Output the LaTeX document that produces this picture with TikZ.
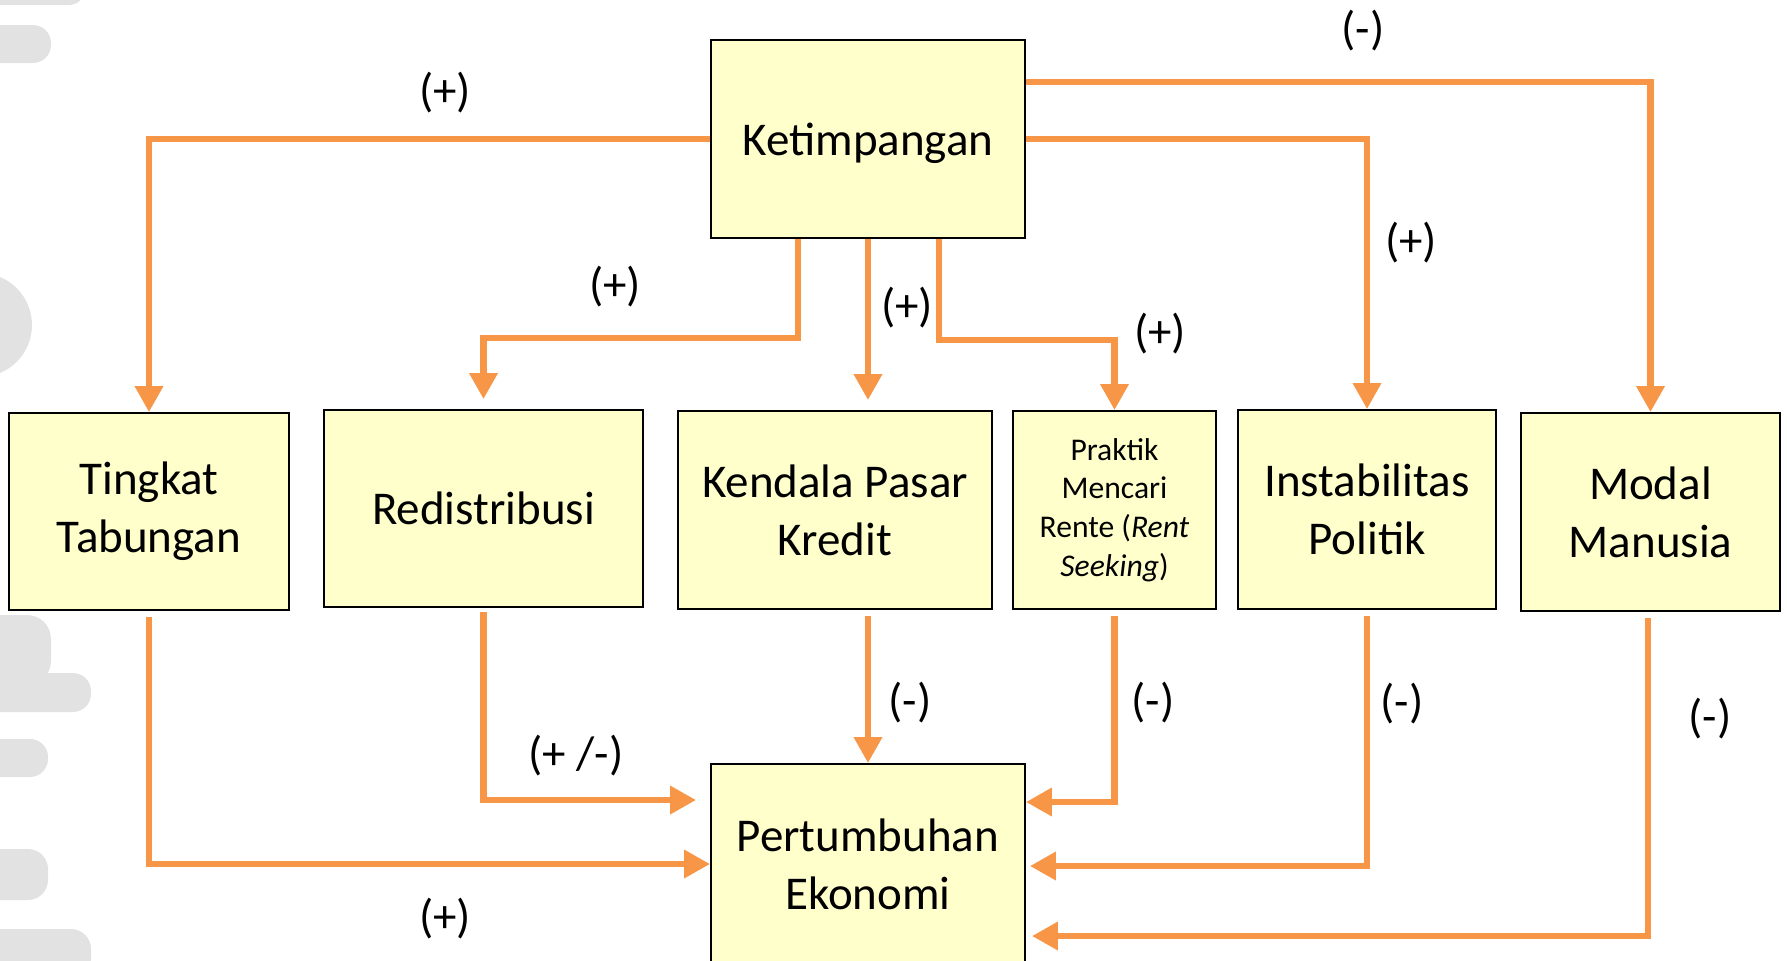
\documentclass[tikz,border=0pt]{standalone}
\usepackage{fontspec}
\setmainfont{Carlito}
\usetikzlibrary{arrows.meta,positioning}
\definecolor{boxyellow}{RGB}{255,255,204}
\definecolor{floworange}{RGB}{247,150,70}
\definecolor{shadegray}{RGB}{226,226,226}

\begin{document}
\begin{tikzpicture}[x=0.5pt, y=-0.5pt,
    box/.style={draw=black, line width=0.9pt, fill=boxyellow, align=center,
      inner sep=2pt, font=\fontsize{23.5}{29}\selectfont},
    smallbox/.style={box, font=\fontsize{15.8}{19.4}\selectfont},
    lbl/.style={font=\fontsize{23.5}{29}\selectfont, inner sep=0pt},
    flow/.style={draw=floworange, line width=3.3pt,
      -{Triangle[width=13.5pt,length=13pt]}},
    shade/.style={fill=shadegray, draw=none}]
  \useasboundingbox (0,0) rectangle (1787,960);
  \clip (0,0) rectangle (1787,960);

  % faint shapes along the left edge
  \fill[shade, rounded corners=8pt] (-40,-20) rectangle (85,5);
  \fill[shade, rounded corners=9pt] (-40,25) rectangle (51,63);
  \fill[shade] (-20,325) circle [radius=26pt];
  \fill[shade, rounded corners=12pt] (-40,615) rectangle (51,685);
  \fill[shade, rounded corners=9pt] (-40,673) rectangle (91,712);
  \fill[shade, rounded corners=9pt] (-40,739) rectangle (48,777);
  \fill[shade, rounded corners=10pt] (-40,849) rectangle (48,900);
  \fill[shade, rounded corners=10pt] (-40,929) rectangle (91,980);

  % boxes
  \node[box, text depth=0pt, minimum width=157pt, minimum height=99pt] (ket) at (868,139) {Ketimpangan};
  \node[box, minimum width=140pt, minimum height=98.5pt] (tab) at (149,511.5) {Tingkat\\Tabungan};
  \node[box, minimum width=159.5pt, minimum height=98.5pt] (red) at (483.5,508.5) {Redistribusi};
  \node[box, minimum width=157pt, minimum height=99pt] (ken) at (835,510) {Kendala Pasar\\Kredit};
  \node[smallbox, minimum width=101.5pt, minimum height=99pt] (ren) at (1114.5,510)
    {Praktik\\Mencari\\Rente (\textit{Rent}\\\textit{Seeking})};
  \node[box, minimum width=129pt, minimum height=99.5pt] (ins) at (1367,509.5) {Instabilitas\\Politik};
  \node[box, minimum width=129.5pt, minimum height=99pt] (mod) at (1650.5,512) {Modal\\Manusia};
  \node[box, minimum width=157pt, minimum height=100pt] (per) at (868,864) {Pertumbuhan\\Ekonomi};

  % bends
  \coordinate (k1) at (798,338);
  \coordinate (k3) at (939,340);
  \coordinate (m1) at (1647,82);
  \coordinate (p1) at (149,864);
  \coordinate (p2) at (484,800);
  \coordinate (q1) at (1114,802);
  \coordinate (q2) at (1367,866);
  \coordinate (q3) at (1648,936);

  % from Ketimpangan
  \draw[flow] (ket.west) -| (tab.north);
  \draw[flow, shorten >=5pt] (ket.south -| k1) -- (k1) -| (red.north);
  \draw[flow, shorten >=5pt] (ket.south) -- (ket.south |- ken.north);
  \draw[flow] (ket.south -| k3) -- (k3) -| (ren.north);
  \draw[flow] (ket.east) -| (ins.north);
  \draw[flow] (ket.east |- m1) -| (mod.north);

  % into Pertumbuhan Ekonomi
  \draw[flow, shorten <=3pt] (tab.south) -- (p1) -- (per.west |- p1);
  \draw[flow, shorten <=2pt, shorten >=7pt] (red.south) |- (per.west |- p2);
  \draw[flow, shorten <=3pt] (per.north |- ken.south) -- (per.north);
  \draw[flow, shorten <=3pt] (ren.south) |- (per.east |- q1);
  \draw[flow, shorten <=3pt, shorten >=2pt] (ins.south) |- (per.east |- q2);
  \draw[flow, shorten <=3pt, shorten >=3pt] (mod.south -| q3) |- (per.east |- q3);

  % signs
  \node[lbl] (s1) at (445,93) {(+)};
  \node[lbl] (s2) at (615,287) {(+)};
  \node[lbl] (s3) at (907,308) {(+)};
  \node[lbl] (s4) at (1160,334) {(+)};
  \node[lbl] (s5) at (1411,243) {(+)};
  \node[lbl] (s6) at (1363,31) {(-)};
  \node[lbl] (s7) at (445,919) {(+)};
  \node[lbl] (s8) at (576,756) {(+ /-)};
  \node[lbl] (s9) at (910,703) {(-)};
  \node[lbl] (s10) at (1153,703) {(-)};
  \node[lbl] (s11) at (1402,704) {(-)};
  \node[lbl] (s12) at (1710,719) {(-)};
\end{tikzpicture}
\end{document}
